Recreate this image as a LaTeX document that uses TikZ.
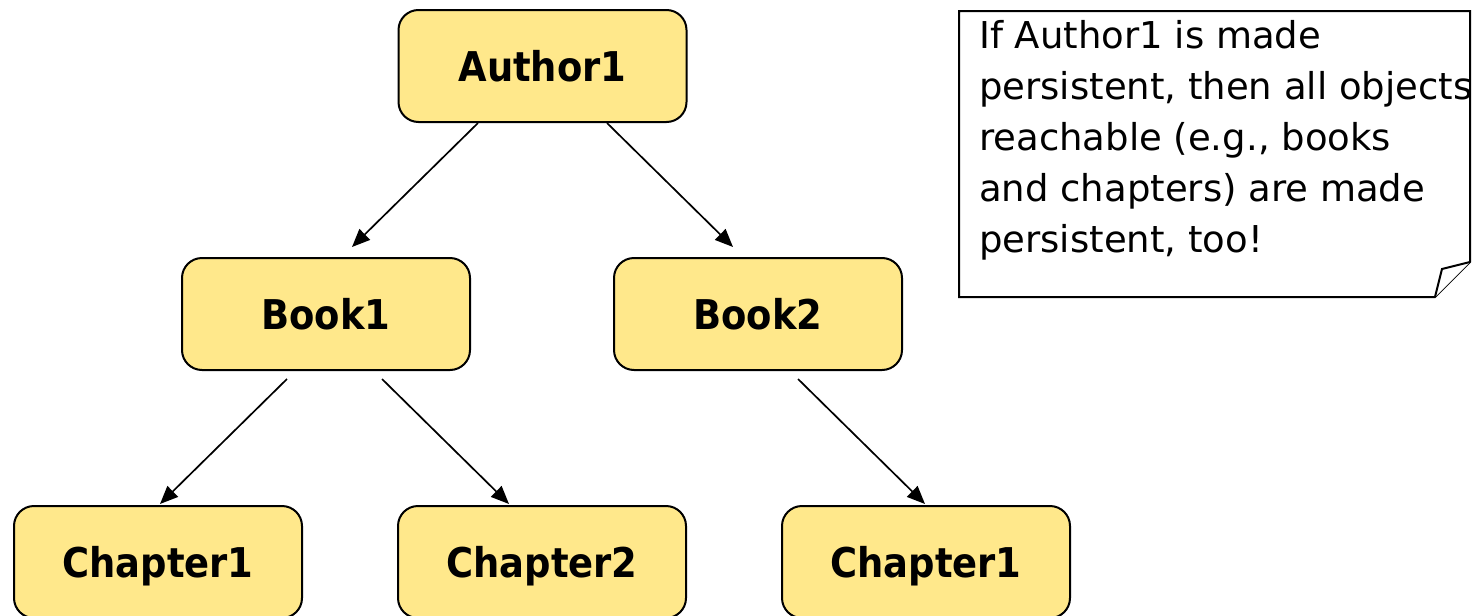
\documentclass[tikz,border=0pt]{standalone}
\usepackage{fontspec}
\usetikzlibrary{arrows.meta,calc}
\newfontfamily\boxfont{DejaVu Sans Condensed}
\newfontfamily\notefont{DejaVu Sans}
\definecolor{boxfill}{RGB}{255,232,139}
\tikzset{
  objbox/.style={draw=black, line width=2pt, fill=boxfill, rounded corners=20pt,
    minimum width=288pt, minimum height=112pt, inner sep=0pt,
    text height=30pt, text depth=0pt,
    font=\boxfont\bfseries\fontsize{41}{45}\selectfont},
  arr/.style={line width=1.7pt, -{Triangle[length=18pt,width=15pt]}},
  noteline/.style={anchor=base west, inner sep=0pt, font=\notefont\fontsize{37}{51}\selectfont},
  notebox/.style={draw=black, line width=2pt, fill=white, line join=miter}
}
\begin{document}
\begin{tikzpicture}[x=1pt,y=-1pt]
\useasboundingbox (0,0) rectangle (1484,616);
% object boxes
\node[objbox] (a)  at (542.5,66) {Author1};
\node[objbox] (b1) at (326,314) {Book1};
\node[objbox] (b2) at (758,314) {Book2};
\node[objbox] (c1) at (158,562) {Chapter1};
\node[objbox] (c2) at (542,562) {Chapter2};
\node[objbox] (c3) at (926,562) {Chapter1};
% connectors
\draw[arr] ([xshift=-64.5pt]a.south) -- ([xshift=26pt,yshift=10pt]b1.north);
\draw[arr] ([xshift=64.5pt]a.south) -- ([xshift=-25pt,yshift=10pt]b2.north);
\draw[arr] ([xshift=-39pt,yshift=-8pt]b1.south) -- ([xshift=2pt,yshift=1pt]c1.north);
\draw[arr] ([xshift=56pt,yshift=-8pt]b1.south) -- ([xshift=-33pt,yshift=1pt]c2.north);
\draw[arr] ([xshift=40pt,yshift=-8pt]b2.south) -- ([xshift=-1pt,yshift=1pt]c3.north);
% note
\coordinate (n1) at (959,11);
\coordinate (n2) at (1470,11);
\coordinate (n3) at (1470,262);
\coordinate (n4) at (1435,297);
\coordinate (n5) at (959,297);
\coordinate (nf) at (1442,269);
\draw[notebox] (n1) -- (n2) -- (n3) -- (n4) -- (n5) -- cycle;
\draw[notebox] (n4) -- (nf) -- (n3);
\node[noteline] (t1) at (979,48)  {If Author1 is made};
\node[noteline] (t2) at (979,99)  {persistent, then all objects};
\node[noteline] (t3) at (979,150) {reachable (e.g., books};
\node[noteline] (t4) at (979,201) {and chapters) are made};
\node[noteline] (t5) at (979,252) {persistent, too!};
\end{tikzpicture}
\end{document}
